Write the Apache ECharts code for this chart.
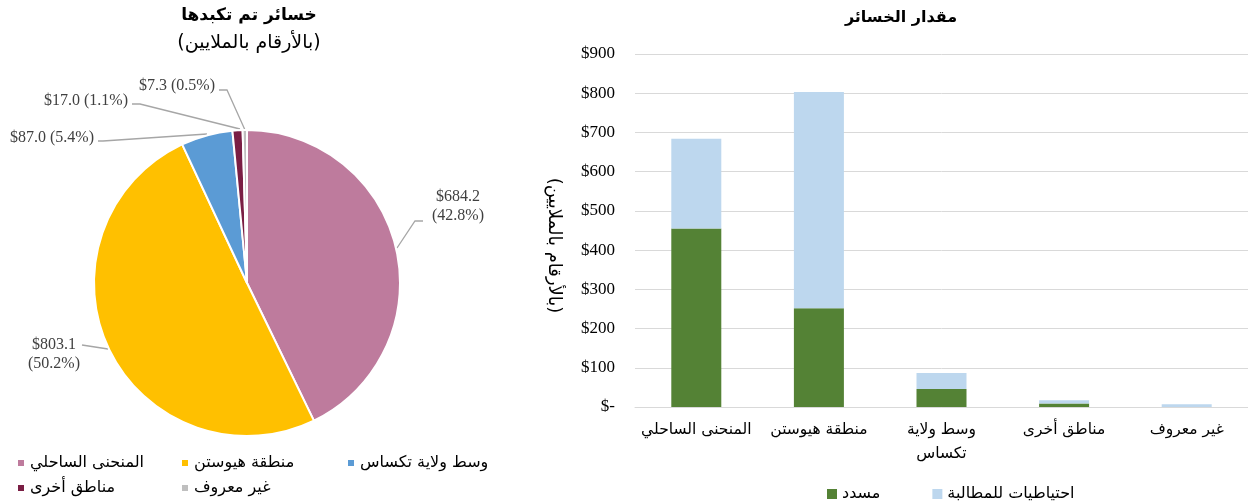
<!DOCTYPE html>
<html>
<head>
<meta charset="utf-8">
<script src="https://cdn.jsdelivr.net/npm/echarts@6/dist/echarts.min.js"></script>
<style>
  html, body { margin: 0; padding: 0; background: #fff; }
  #main { width: 1248px; height: 504px; }
</style>
</head>
<body>
<div id="main"></div>
<script>
// 数据
var regions = ['المنحنى الساحلي', 'منطقة هيوستن', 'وسط ولاية تكساس', 'مناطق أخرى', 'غير معروف']
var totals = [684.2, 803.1, 87.0, 17.0, 7.3]
var paid = [455, 252, 46, 9, 0]
var reserves = [229.2, 551.1, 41, 8, 7.3]
var yTicks = [0, 100, 200, 300, 400, 500, 600, 700, 800, 900]

var pieColors = ['#BE7B9D', '#FFC000', '#5B9BD5', '#7A1E44', '#BFBFBF']
var arFont = 'DejaVu Sans, Liberation Sans, sans-serif'
var numFont = 'Liberation Serif, DejaVu Serif, serif'

var sum = totals.reduce(function (a, b) { return a + b }, 0)

var pieData = []
for (var i = 0; i < regions.length; i++) {
    pieData.push({ name: regions[i], value: totals[i], itemStyle: { color: pieColors[i] } })
}

// 标签位置和引导线
var labelPos = [
    { x: 458, y: 206, align: 'center', line: [[397, 248], [415, 221], [423, 221]] },
    { x: 54, y: 354, align: 'center', line: [[108, 349], [95, 347], [82, 345]] },
    { x: 94, y: 138, align: 'right', line: [[207, 134], [103, 141], [98, 141]] },
    { x: 128, y: 101, align: 'right', line: [[240, 129], [140, 104], [132, 104]] },
    { x: 215, y: 86, align: 'right', line: [[245, 130], [227, 90], [219, 90]] }
]

// 饼图图例分三列
function pieLegend(names, left) {
    return {
        data: names,
        orient: 'vertical',
        left: left,
        top: 450,
        itemWidth: 8,
        itemHeight: 8,
        itemGap: 9,
        icon: 'rect',
        textStyle: { fontFamily: arFont, fontSize: 16, color: '#000' }
    }
}

var myChart = echarts.init(document.getElementById('main'))

var option = {
    animation: false,
    title: [{
        text: 'خسائر تم تكبدها',
        subtext: '(بالأرقام بالملايين)',
        left: 244,
        top: 2,
        textAlign: 'center',
        itemGap: 10,
        textStyle: { fontFamily: arFont, fontSize: 17, fontWeight: 'bold', color: '#000' },
        subtextStyle: { fontFamily: arFont, fontSize: 19, color: '#000' }
    }, {
        text: 'مقدار الخسائر',
        left: 896,
        top: 5,
        textAlign: 'center',
        textStyle: { fontFamily: arFont, fontSize: 16, fontWeight: 'bold', color: '#000' }
    }],
    legend: [
        pieLegend([regions[0], regions[3]], 11),
        pieLegend([regions[1], regions[4]], 175),
        pieLegend([regions[2]], 341),
        {
            data: ['مسدد', 'احتياطيات للمطالبة'],
            left: 822,
            top: 481,
            itemWidth: 10,
            itemHeight: 10,
            itemGap: 52,
            icon: 'rect',
            textStyle: { fontFamily: arFont, fontSize: 16, color: '#000' }
        }
    ],
    grid: {
        left: 635,
        right: -2,
        top: 54,
        bottom: 97
    },
    xAxis: {
        type: 'category',
        data: regions,
        axisLine: { lineStyle: { color: '#D9D9D9' } },
        axisTick: { show: false },
        axisLabel: {
            fontFamily: arFont,
            fontSize: 15.5,
            color: '#000',
            margin: 11,
            lineHeight: 24,
            interval: 0,
            formatter: function (v) { return v === 'وسط ولاية تكساس' ? 'وسط ولاية\nتكساس' : v }
        }
    },
    yAxis: {
        type: 'value',
        min: yTicks[0],
        max: yTicks[yTicks.length - 1],
        interval: 100,
        name: '(بالأرقام بالملايين)',
        nameLocation: 'middle',
        nameRotate: -90,
        nameGap: 72,
        nameTextStyle: { fontFamily: arFont, fontSize: 18, color: '#000', padding: [0, 0, 0, 30] },
        axisLine: { show: false },
        axisTick: { show: false },
        splitLine: { lineStyle: { color: '#D9D9D9' } },
        axisLabel: {
            fontFamily: numFont,
            fontSize: 17,
            color: '#000',
            margin: 20,
            formatter: function (v) { return v === 0 ? '$-' : '$' + v }
        }
    },
    series: [{
        name: 'مسدد',
        type: 'bar',
        stack: 'loss',
        barWidth: 50,
        itemStyle: { color: '#548235' },
        data: paid
    }, {
        name: 'احتياطيات للمطالبة',
        type: 'bar',
        stack: 'loss',
        barWidth: 50,
        itemStyle: { color: '#BDD7EE' },
        data: reserves
    }, {
        name: 'pie',
        type: 'pie',
        center: [247, 283],
        radius: 153,
        startAngle: 90,
        clockwise: true,
        itemStyle: { borderColor: '#fff', borderWidth: 2 },
        label: {
            show: true,
            position: 'outside',
            overflow: 'none',
            fontFamily: numFont,
            fontSize: 16,
            color: '#404040',
            lineHeight: 19,
            formatter: function (p) {
                var pct = (p.value / sum * 100).toFixed(1)
                var v = '$' + p.value.toFixed(1)
                if (p.dataIndex < 2) return v + '\n(' + pct + '%)'
                return v + ' (' + pct + '%)'
            }
        },
        labelLine: {
            show: true,
            lineStyle: { color: '#A6A6A6', width: 1.3 }
        },
        labelLayout: function (params) {
            var lp = labelPos[params.dataIndex]
            return {
                x: lp.x, y: lp.y, align: lp.align, verticalAlign: 'middle',
                labelLinePoints: lp.line
            }
        },
        data: pieData
    }]
}

myChart.setOption(option)
</script>
</body>
</html>
